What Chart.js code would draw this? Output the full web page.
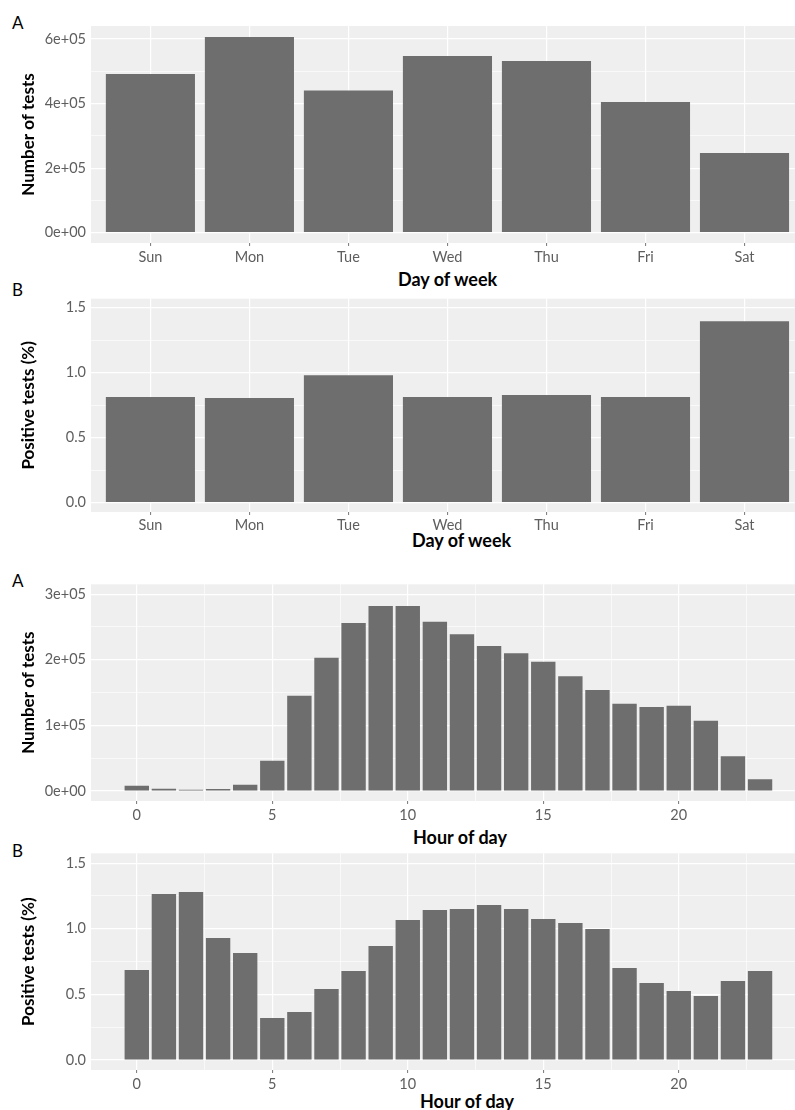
<!DOCTYPE html>
<html>
<head>
<meta charset="utf-8">
<script src="https://cdn.jsdelivr.net/npm/chart.js@4.4.0/dist/chart.umd.min.js"></script>
<style>
  body { margin: 0; background: #fff; width: 795px; height: 1110px; overflow: hidden; position: relative; font-family: Lato, sans-serif; }
  canvas { position: absolute; left: 0; }
  .lbl { position: absolute; font-size: 17px; line-height: 1; color: #000; }
  .xt { position: absolute; font-size: 18px; font-weight: bold; line-height: 1; color: #000; white-space: nowrap; }
</style>
</head>
<body>
<div class="lbl" style="left:12px;top:14px">A</div>
<div class="lbl" style="left:12px;top:281px">B</div>
<div class="lbl" style="left:12px;top:572px">A</div>
<div class="lbl" style="left:12px;top:842px">B</div>

<div class="xt" style="left:398px;top:270px">Day of week</div>
<div class="xt" style="left:412px;top:531px">Day of week</div>
<div class="xt" style="left:413px;top:828px">Hour of day</div>
<div class="xt" style="left:420px;top:1092px">Hour of day</div>

<canvas id="dayCount" style="top:0px" width="795" height="270"></canvas>
<canvas id="dayPos" style="top:285px" width="795" height="270"></canvas>
<canvas id="hourCount" style="top:555px" width="795" height="272"></canvas>
<canvas id="hourPos" style="top:820px" width="795" height="272"></canvas>

<script>
const days = ["Sun", "Mon", "Tue", "Wed", "Thu", "Fri", "Sat"];
const dayTests = [491000, 606000, 440000, 547000, 532000, 405000, 247000];
const dayPositive = [0.813, 0.805, 0.98, 0.813, 0.828, 0.813, 1.396];

const hours = [0, 1, 2, 3, 4, 5, 6, 7, 8, 9, 10, 11, 12, 13, 14, 15, 16, 17, 18, 19, 20, 21, 22, 23];
const hourTests = [8000, 3500, 2000, 3000, 9600, 46000, 145000, 203000, 256000, 282000, 282000, 258000,
  239000, 221000, 210000, 197000, 175000, 154000, 133000, 128000, 130000, 107000, 53000, 18000];
const hourPositive = [0.686, 1.265, 1.28, 0.93, 0.816, 0.32, 0.366, 0.541, 0.678, 0.869, 1.067, 1.143,
  1.151, 1.181, 1.151, 1.075, 1.044, 0.998, 0.701, 0.587, 0.526, 0.488, 0.602, 0.678];

const BAR = "#6e6e6e";
const PANEL = "#efefef";
const TICKTXT = "#5e5e5e";

// grey panel behind the bars
const panelBg = {
  id: "panelBg",
  beforeDraw(chart) {
    const a = chart.chartArea;
    chart.ctx.save();
    chart.ctx.fillStyle = PANEL;
    chart.ctx.fillRect(a.left, a.top, a.right - a.left, a.bottom - a.top);
    chart.ctx.restore();
  },
};

function sci(v) {
  if (v === 0) return "0e+00";
  const e = Math.floor(Math.log10(Math.abs(v)));
  const m = Math.round(v / Math.pow(10, e));
  return m + "e+" + String(e).padStart(2, "0");
}

// ticks every `step` inside [min, max] (Chart.js stretches them otherwise)
function stepTicks(scale, step) {
  const out = [];
  const first = Math.ceil(scale.min / step - 1e-9);
  for (let k = first; k * step <= scale.max + 1e-9; k++) {
    out.push({ value: Math.round(k * step * 1e6) / 1e6 });
  }
  scale.ticks = out;
}

function makeChart(id, opts) {
  const ctx = document.getElementById(id).getContext("2d");
  const isMajorX = (v) => Math.abs(v / opts.xMajor - Math.round(v / opts.xMajor)) < 1e-6;
  const isMajorY = (v) => Math.abs(v / opts.yMajor - Math.round(v / opts.yMajor)) < 1e-6;
  return new Chart(ctx, {
    type: "bar",
    data: {
      datasets: [
        {
          data: opts.xs.map((x, i) => ({ x: x, y: opts.ys[i] })),
          backgroundColor: BAR,
          borderWidth: 0,
          categoryPercentage: 1,
          barPercentage: 0.9,
        },
      ],
    },
    options: {
      responsive: false,
      animation: false,
      events: [],
      layout: { padding: { top: opts.top, right: 0, left: 0, bottom: 0 } },
      plugins: { legend: { display: false }, tooltip: { enabled: false } },
      scales: {
        x: {
          type: "linear",
          offset: false,
          min: opts.xMin,
          max: opts.xMax,
          border: { display: false },
          grid: {
            offset: false,
            color: "#ffffff",
            lineWidth: (c) => (isMajorX(c.tick.value) ? 1.2 : 0.6),
            drawTicks: true,
            tickLength: 3,
            tickColor: (c) => (isMajorX(c.tick.value) ? "#777777" : "rgba(0,0,0,0)"),
            tickWidth: 1,
          },
          ticks: {
            autoSkip: false,
            maxRotation: 0,
            padding: opts.tickPad,
            color: TICKTXT,
            font: { family: "Lato", size: 14.5 },
            callback: (v) => (isMajorX(v) ? opts.xLabel(v) : ""),
          },
          afterBuildTicks: (s) => stepTicks(s, opts.xStep),
          afterFit(scale) {
            scale.height = opts.axisH;
          },
        },
        y: {
          min: opts.yMin,
          max: opts.yMax,
          border: { display: false },
          grid: {
            color: "#ffffff",
            lineWidth: (c) => (isMajorY(c.tick.value) ? 1.2 : 0.6),
            drawTicks: false,
          },
          ticks: {
            autoSkip: false,
            padding: 5,
            color: TICKTXT,
            font: { family: "Lato", size: 14.5 },
            callback: (v) => (isMajorY(v) ? opts.yLabel(v) : ""),
          },
          afterBuildTicks: (s) => stepTicks(s, opts.yStep),
          title: {
            display: true,
            text: opts.yTitle,
            color: "#000",
            font: { family: "Lato", size: 17, weight: "bold", lineHeight: 1.2 },
            padding: { top: 18, bottom: 0 },
          },
          afterFit(scale) {
            scale.width = 91;
          },
        },
      },
    },
    plugins: [panelBg],
  });
}

makeChart("dayCount", {
  xs: days.map((d, i) => i),
  ys: dayTests,
  top: 26,
  axisH: 27,
  tickPad: 3,
  xMin: -0.6, xMax: 6.51, xStep: 1, xMajor: 1,
  xLabel: (v) => days[Math.round(v)],
  yMin: -31900, yMax: 640000, yStep: 100000, yMajor: 200000,
  yLabel: sci,
  yTitle: "Number of tests",
});

makeChart("dayPos", {
  xs: days.map((d, i) => i),
  ys: dayPositive,
  top: 10,
  axisH: 43,
  tickPad: 2,
  xMin: -0.6, xMax: 6.51, xStep: 1, xMajor: 1,
  xLabel: (v) => days[Math.round(v)],
  yMin: -0.073, yMax: 1.57, yStep: 0.25, yMajor: 0.5,
  yLabel: (v) => v.toFixed(1),
  yTitle: "Positive tests (%)",
});

makeChart("hourCount", {
  xs: hours,
  ys: hourTests,
  top: 29.3,
  axisH: 26,
  tickPad: 3,
  xMin: -1.69, xMax: 24.29, xStep: 2.5, xMajor: 5,
  xLabel: (v) => String(Math.round(v)),
  yMin: -15200, yMax: 315000, yStep: 50000, yMajor: 100000,
  yLabel: sci,
  yTitle: "Number of tests",
});

makeChart("hourPos", {
  xs: hours,
  ys: hourPositive,
  top: 33.3,
  axisH: 22,
  tickPad: 3,
  xMin: -1.69, xMax: 24.29, xStep: 2.5, xMajor: 5,
  xLabel: (v) => String(Math.round(v)),
  yMin: -0.076, yMax: 1.575, yStep: 0.25, yMajor: 0.5,
  yLabel: (v) => v.toFixed(1),
  yTitle: "Positive tests (%)",
});
</script>
</body>
</html>
